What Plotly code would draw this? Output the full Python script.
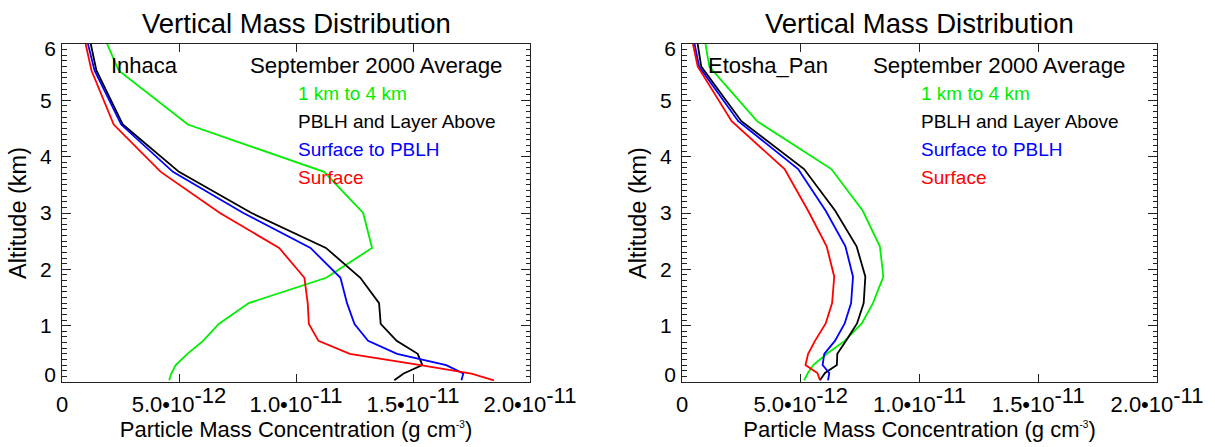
import plotly.graph_objects as go

FONT = "Liberation Sans, Arial, Helvetica, sans-serif"

# ---------------- data (particle mass concentration in units of 1e-12 g cm^-3) -------------
# Inhaca
alt_inhaca = [0.03, 0.15, 0.30, 0.50, 0.73, 1.03, 1.40, 1.85, 2.38, 3.00, 3.73, 4.57, 5.53, 6.00]
inhaca_1to4km = [4.58, 4.67, 4.86, 5.36, 6.03, 6.70, 7.98, 11.29, 13.25, 12.87, 11.20, 5.38, 2.42, 1.93]
inhaca_pblh_above = [14.20, 14.60, 15.40, 15.20, 14.30, 13.62, 13.55, 12.75, 11.28, 8.10, 5.00, 2.60, 1.47, 1.23]
inhaca_sfc_to_pblh = [17.07, 17.15, 16.42, 14.32, 13.08, 12.50, 12.18, 11.90, 10.62, 7.75, 4.74, 2.53, 1.39, 1.11]
inhaca_surface = [18.46, 17.50, 15.32, 12.30, 10.96, 10.55, 10.50, 10.36, 9.28, 6.75, 4.22, 2.21, 1.26, 1.01]

# Etosha_Pan
alt_etosha = [0.03, 0.16, 0.30, 0.50, 0.73, 1.04, 1.40, 1.87, 2.41, 3.04, 3.78, 4.63, 5.60, 6.00]
etosha_1to4km = [5.14, 5.30, 5.53, 6.10, 6.85, 7.57, 8.04, 8.48, 8.33, 7.61, 6.29, 3.16, 1.15, 0.99]
etosha_pblh_above = [5.81, 6.02, 6.52, 6.54, 6.90, 7.37, 7.65, 7.72, 7.35, 6.45, 5.14, 2.50, 0.81, 0.66]
etosha_sfc_to_pblh = [6.15, 6.20, 5.92, 5.99, 6.44, 6.85, 7.12, 7.20, 6.88, 6.05, 4.89, 2.37, 0.72, 0.53]
etosha_surface = [5.81, 5.70, 5.20, 5.31, 5.60, 6.05, 6.32, 6.41, 6.09, 5.31, 4.32, 2.09, 0.66, 0.46]

series_names = ["1 km to 4 km", "PBLH and Layer Above", "Surface to PBLH", "Surface"]
series_colors = ["#00ee00", "#000000", "#0000ff", "#ff0000"]

site_names = ["Inhaca", "Etosha_Pan"]
title_text = "Vertical Mass Distribution"
period_text = "September 2000 Average"

SUP = "<sup><span style=\"font-size:22px\">%s</span></sup>"
x_tick_vals = [0, 5, 10, 15, 20]
x_tick_text = [
    "0",
    "5.0\u202210" + SUP % "-12",
    "1.0\u202210" + SUP % "-11",
    "1.5\u202210" + SUP % "-11",
    "2.0\u202210" + SUP % "-11",
]
y_tick_vals = [0, 1, 2, 3, 4, 5, 6]
y_tick_text_mid = ["", "1", "2", "3", "4", "5", ""]

x_title = "Particle Mass Concentration (g cm<sup><span style=\"font-size:10px\">-3</span></sup>)"
y_title = "Altitude (km)"

# ---------------- figure -------------
W, H = 1215, 447
x_domains = [[62 / W, 530 / W], [682 / W, 1157 / W]]
y_domain = [1 - 382 / H, 1 - 44 / H]

fig = go.Figure()

sites = [
    (alt_inhaca, [inhaca_1to4km, inhaca_pblh_above, inhaca_sfc_to_pblh, inhaca_surface]),
    (alt_etosha, [etosha_1to4km, etosha_pblh_above, etosha_sfc_to_pblh, etosha_surface]),
]

for i, (alts, vals_list) in enumerate(sites):
    xa = "x" if i == 0 else "x2"
    ya = "y" if i == 0 else "y2"
    for vals, name, col in zip(vals_list, series_names, series_colors):
        fig.add_trace(go.Scatter(x=vals, y=alts, mode="lines", name=name,
                                 line=dict(color=col, width=1.8),
                                 xaxis=xa, yaxis=ya, showlegend=False))

FRAME = "#222222"
base_axis = dict(showline=True, linecolor=FRAME, linewidth=1, mirror="ticks",
                 showgrid=False, zeroline=False, ticks="inside", tickcolor=FRAME,
                 tickwidth=1, automargin=False)

layout = dict(width=W, height=H, margin=dict(l=0, r=0, t=0, b=0, autoexpand=False),
              paper_bgcolor="white", plot_bgcolor="white",
              font=dict(family=FONT, color="black"), showlegend=False)

for i in range(2):
    sx = "" if i == 0 else "2"
    ax_x = dict(base_axis, domain=x_domains[i], range=[0, 20], tickvals=x_tick_vals,
                ticktext=x_tick_text, ticklen=8, anchor="y" + sx, ticklabelstandoff=3,
                tickfont=dict(size=22, family=FONT, color="black"),
                title=dict(text=x_title, font=dict(size=22, family=FONT, color="black"), standoff=5))
    ax_y = dict(base_axis, domain=y_domain, range=[0, 6], tickvals=y_tick_vals,
                ticktext=y_tick_text_mid, ticklen=9, anchor="x" + sx, ticklabelstandoff=5,
                minor=dict(ticks="inside", ticklen=4.5, dtick=0.1, tick0=0,
                           tickcolor=FRAME, tickwidth=1),
                tickfont=dict(size=21, family=FONT, color="black"),
                title=dict(text=y_title, font=dict(size=23.5, family=FONT, color="black"), standoff=6))
    layout["xaxis" + sx] = ax_x
    layout["yaxis" + sx] = ax_y

# overlay axes carrying the end labels (6 sits a little below its tick, 0 a little above)
extra = 3
for i in range(2):
    sx = "" if i == 0 else "2"
    for val, shift in [(6, 5), (0, -7)]:
        layout["yaxis%d" % extra] = dict(overlaying="y" + sx, anchor="x" + sx, side="left",
                                         range=[0, 6], tickvals=[val], ticktext=[str(val)],
                                         ticks="", showline=False, showgrid=False, zeroline=False,
                                         ticklabelshift=shift, ticklabelstandoff=5, automargin=False,
                                         tickfont=dict(size=21, family=FONT, color="black"))
        fig.add_trace(go.Scatter(x=[], y=[], xaxis="x" + sx, yaxis="y%d" % extra,
                                 showlegend=False, hoverinfo="skip"))
        extra += 1

fig.update_layout(**layout)

annotations = []
for i in range(2):
    sx = "" if i == 0 else "2"
    annotations.append(dict(text=title_text, xref="x%s domain" % sx, yref="paper",
                            x=0.5, y=1 - 23.2 / H, xanchor="center", yanchor="middle",
                            showarrow=False, font=dict(size=27.5, family=FONT, color="black")))
    name_x = [0.101, 0.0505][i]
    annotations.append(dict(text=site_names[i], xref="x%s domain" % sx, yref="y%s domain" % sx,
                            x=name_x, y=0.9367, xanchor="left", yanchor="middle",
                            showarrow=False, font=dict(size=22, family=FONT, color="black")))
    annotations.append(dict(text=period_text, xref="x%s domain" % sx, yref="y%s domain" % sx,
                            x=0.397, y=0.9367, xanchor="left", yanchor="middle",
                            showarrow=False, font=dict(size=22.3, family=FONT, color="black")))
    for k, (name, col) in enumerate(zip(series_names, series_colors)):
        annotations.append(dict(text=name, xref="x%s domain" % sx, yref="y%s domain" % sx,
                                x=0.499, y=[0.8538, 0.7701, 0.6882, 0.6044][k],
                                xanchor="left", yanchor="middle", showarrow=False,
                                font=dict(size=19, family=FONT, color=col)))

fig.update_layout(annotations=annotations)

fig.write_html("out.html")
